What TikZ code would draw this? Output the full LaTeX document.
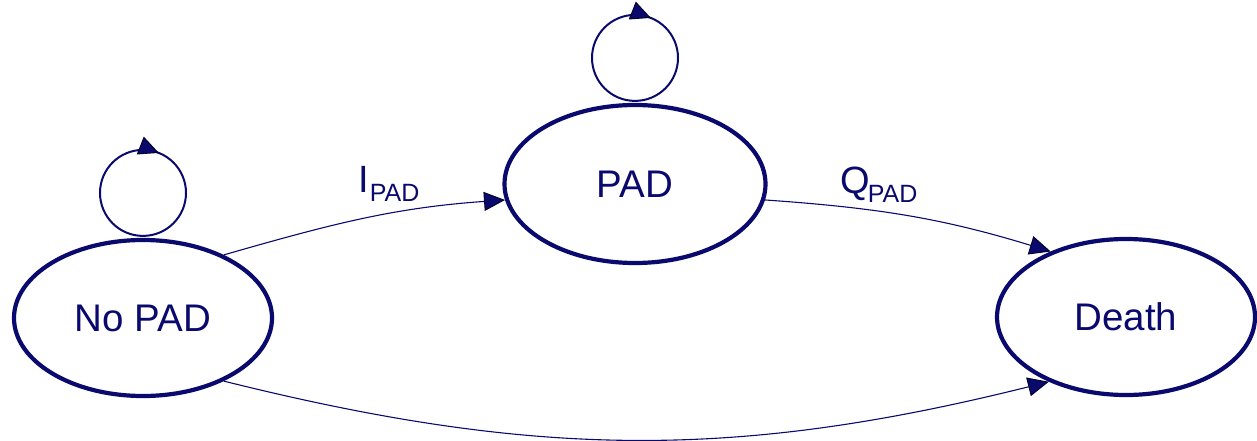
\documentclass[tikz,border=0pt]{standalone}
\usepackage{fontspec}
\setmainfont{Liberation Sans}
\usetikzlibrary{shapes.geometric,arrows.meta,decorations.markings}
\definecolor{navy}{RGB}{10,10,110}
\tikzset{
  state/.style={ellipse, draw=navy, line width=4.2pt, fill=white, inner sep=0pt,
    text=navy, font=\fontsize{38.5}{40}\selectfont},
  tip/.style={-{Triangle[length=21pt,width=19pt,color=black!60!navy,fill=navy,line width=1pt]}},
  conn/.style={tip, draw=navy, line width=1.1pt},
  loopline/.style={draw=navy, line width=2pt,
    postaction={decorate},
    decoration={markings, mark=at position 0.56 with {\arrow{Triangle[length=20pt,width=19pt,color=black!60!navy,fill=navy,line width=1pt]}}}},
  lbl/.style={anchor=base west, inner sep=0pt, text=navy, font=\fontsize{38}{40}\selectfont},
}
\newcommand{\subPAD}{\raisebox{-9pt}{\fontsize{25}{26}\selectfont PAD}}
\begin{document}
\begin{tikzpicture}[x=1pt,y=1pt]
\useasboundingbox (0,0) rectangle (1257,440);
\node[state, minimum width=258pt, minimum height=156pt] (nopad) at (143,122) {No PAD};
\node[state, minimum width=261pt, minimum height=158pt] (pad) at (635,256) {PAD};
\node[state, minimum width=258pt, minimum height=156pt] (death) at (1126,123) {Death};
% self loops
\coordinate (l1) at ([yshift=2pt]nopad.north);
\coordinate (l2) at ([yshift=2pt]pad.north);
\draw[loopline] (l1) arc[start angle=-90, end angle=-450, radius=43pt];
\draw[loopline] (l2) arc[start angle=-90, end angle=-450, radius=43pt];
% transitions
\draw[conn] (nopad.38.8) to[out=16, in=184] (pad.187.5);
\draw[conn] (pad.-7) to[out=-4, in=163] (death.139.5);
\draw[conn] (nopad.-38.4) to[out=-14, in=194] (death.220);
% labels
\node[lbl] (li) at (358,248) {I\kern1pt\subPAD};
\node[lbl] (lq) at (840,247) {Q\kern-2pt\subPAD};
\end{tikzpicture}
\end{document}
